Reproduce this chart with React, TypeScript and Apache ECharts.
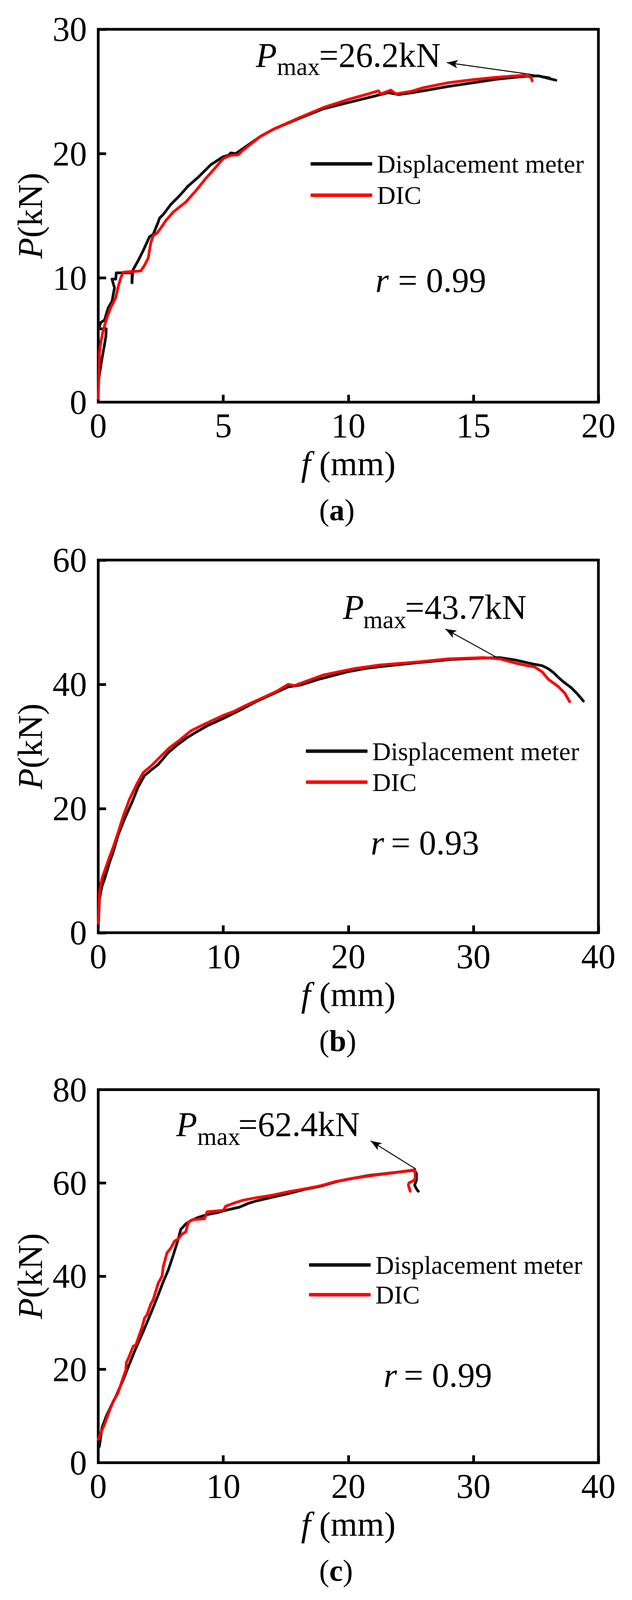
import React, { useEffect, useRef, useState } from "react";
import * as echarts from "echarts";

const FONT = '"Liberation Serif", "Times New Roman", Times, serif';

// ---------- data (f in mm, P in kN) ----------
const dispA: number[][] = [
  [0.0, 1.6], [0.15, 3.5], [0.3, 5.2], [0.32, 5.9], [0.02, 5.9], [0.1, 6.4], [0.25, 6.6],
  [0.4, 7.6], [0.55, 8.1], [0.65, 9.2], [0.55, 9.9], [0.7, 9.9], [0.72, 10.4], [1.35, 10.4],
  [1.35, 9.6], [1.38, 10.6], [1.6, 11.4], [1.8, 12.2], [2.05, 13.3], [2.2, 13.5], [2.4, 14.5],
  [2.45, 14.8], [2.6, 15.1], [2.9, 15.9], [3.2, 16.5], [3.6, 17.4], [4.0, 18.1], [4.5, 19.1],
  [5.0, 19.75], [5.2, 19.85], [5.3, 20.05], [5.5, 20.0], [6.0, 20.7], [6.5, 21.4], [7.0, 21.95],
  [8.0, 22.8], [9.0, 23.6], [10.0, 24.1], [11.0, 24.6], [11.6, 24.9], [12.0, 24.75], [12.4, 24.85],
  [13.0, 25.05], [14.0, 25.4], [15.0, 25.7], [16.0, 26.0], [17.0, 26.2], [17.6, 26.25],
  [18.0, 26.05], [18.3, 25.9],
];
const dicA: number[][] = [
  [0.0, 0.3], [0.03, 2.5], [0.05, 4.0], [0.1, 4.8], [0.2, 5.8], [0.35, 6.8], [0.5, 7.6],
  [0.7, 8.4], [0.8, 9.3], [0.9, 10.0], [1.0, 10.45], [1.3, 10.5], [1.7, 10.55], [1.85, 11.0],
  [2.0, 11.6], [2.1, 12.8], [2.2, 13.4], [2.35, 13.6], [2.5, 14.0], [2.7, 14.6], [3.0, 15.3],
  [3.5, 16.1], [3.9, 17.0], [4.3, 18.0], [4.7, 18.9], [5.0, 19.6], [5.3, 19.85], [5.6, 19.9],
  [5.75, 20.2], [6.0, 20.6], [6.5, 21.4], [7.0, 21.95], [7.5, 22.4], [8.0, 22.85], [9.0, 23.7],
  [10.0, 24.35], [10.8, 24.8], [11.2, 25.05], [11.3, 24.8], [11.7, 25.1], [11.9, 24.8],
  [12.5, 25.0], [13.0, 25.3], [14.0, 25.7], [15.0, 25.95], [16.0, 26.15], [17.0, 26.3],
  [17.3, 26.15], [17.35, 25.85],
];
const dispB: number[][] = [
  [0.0, 0.5], [0.1, 5.5], [0.3, 7.5], [0.5, 8.6], [0.9, 11.3], [1.2, 13.0], [1.6, 15.8],
  [2.1, 18.3], [2.7, 21.0], [3.2, 23.5], [3.7, 25.3], [4.3, 26.3], [4.8, 27.1], [5.6, 29.0],
  [6.3, 30.2], [7.1, 31.4], [8.0, 32.5], [8.7, 33.3], [10.0, 34.5], [10.5, 35.0], [11.5, 36.0],
  [12.6, 37.2], [13.8, 38.3], [15.2, 39.6], [16.2, 39.9], [17.8, 40.9], [19.9, 42.0],
  [21.5, 42.6], [23.0, 42.95], [25.6, 43.5], [28.2, 44.0], [30.5, 44.2], [32.1, 44.3],
  [33.4, 43.9], [34.7, 43.3], [35.5, 43.0], [36.0, 42.5], [36.4, 41.9], [36.75, 41.2],
  [37.2, 40.4], [37.8, 39.5], [38.3, 38.5], [38.8, 37.3],
];
const dicB: number[][] = [
  [0.0, 1.5], [0.1, 6.5], [0.3, 8.8], [0.5, 9.9], [0.9, 12.2], [1.2, 13.8], [1.6, 16.2],
  [2.0, 18.8], [2.5, 21.5], [3.1, 24.0], [3.6, 25.8], [4.2, 26.8], [4.8, 28.0], [5.7, 29.8],
  [6.5, 31.0], [7.4, 32.5], [8.5, 33.6], [10.0, 35.0], [10.8, 35.6], [11.8, 36.6], [13.0, 37.7],
  [14.2, 38.8], [15.2, 40.0], [15.7, 39.8], [16.5, 40.4], [18.0, 41.5], [20.4, 42.5],
  [22.5, 43.1], [25.6, 43.6], [28.0, 44.1], [30.8, 44.3], [32.1, 44.1], [33.4, 43.4],
  [34.3, 43.0], [34.9, 42.8], [35.5, 42.0], [36.0, 40.8], [36.75, 39.7], [37.3, 38.6],
  [37.7, 37.2],
];
const dispC: number[][] = [
  [0.0, 3.0], [0.1, 3.6], [0.3, 7.5], [0.65, 10.0], [1.0, 12.0], [1.43, 14.3], [2.0, 17.8],
  [2.47, 21.0], [3.0, 24.5], [3.5, 27.5], [4.0, 30.7], [4.4, 33.3], [4.8, 36.0], [5.2, 38.8],
  [5.6, 41.3], [6.0, 44.5], [6.36, 47.6], [6.6, 50.0], [7.0, 51.2], [7.4, 51.9], [8.0, 52.6],
  [8.7, 53.2], [9.5, 53.6], [10.0, 54.0], [11.3, 54.8], [12.0, 55.6], [12.6, 56.1],
  [13.9, 56.9], [15.2, 57.7], [16.5, 58.6], [17.8, 59.3], [19.1, 60.3], [20.4, 61.0],
  [21.7, 61.6], [23.0, 62.0], [24.3, 62.4], [25.3, 62.7], [25.45, 62.0], [25.45, 60.6],
  [25.3, 59.5], [25.5, 58.5], [25.6, 58.2],
];
const dicC: number[][] = [
  [0.0, 5.0], [0.5, 8.2], [0.9, 11.1], [1.2, 13.2], [1.56, 14.8], [2.0, 18.3], [2.2, 19.8],
  [2.25, 21.5], [2.4, 22.3], [2.8, 25.0], [3.0, 25.2], [3.5, 29.0], [3.7, 31.0], [3.9, 31.7],
  [4.2, 34.0], [4.4, 35.0], [4.8, 38.5], [5.1, 40.0], [5.2, 42.0], [5.5, 45.0], [5.8, 46.0],
  [6.1, 47.5], [6.4, 48.0], [6.7, 49.0], [7.0, 49.5], [7.2, 51.5], [7.5, 52.1], [8.5, 52.3],
  [8.7, 53.8], [10.0, 54.1], [10.2, 55.0], [11.0, 55.8], [11.6, 56.3], [12.6, 56.8],
  [14.0, 57.4], [15.2, 58.1], [16.5, 58.7], [17.8, 59.4], [19.0, 60.3], [20.4, 61.0],
  [22.0, 61.6], [23.5, 62.1], [24.5, 62.5], [25.3, 62.8], [25.35, 61.5], [25.3, 60.6],
  [24.85, 60.0], [24.8, 59.5], [24.95, 58.2],
];

// axis ranges
const xMaxes = [20, 40, 40];
const xIntervals = [5, 10, 10];
const yMaxes = [30, 60, 80];
const yIntervals = [10, 20, 20];

// annotation content
const pmaxTexts = ["=26.2kN", "=43.7kN", "=62.4kN"];
const rTexts = ["= 0.99", "= 0.93", "= 0.99"];
const captions = ["a", "b", "c"];
// arrows: [tail(on curve), tip(near label)] in data coords
const arrows: number[][][] = [
  [[18.08, 26.15], [13.94, 27.32]],
  [[31.9, 44.3], [27.76, 48.9]],
  [[25.41, 62.95], [21.79, 69.0]],
];

const SERIES_NAMES = ["Displacement meter", "DIC"];

// ---------- layout (pixels of the 1618 x 4345 reference) ----------
const REF_H = 4345;
const GRID_LEFT = 251.5;
const GRID_W = 1280.5;
const layout = [
  { top: 79.5, bottom: 1092, legLeft: 795, legY: [445, 530], P: [655, 150], max: [709, 181], eq: [817, 150], r: [961, 761], req: 1019 },
  { top: 1521, bottom: 2533, legLeft: 783, legY: [2040, 2124], P: [878, 1649], max: [930, 1683], eq: [1037, 1649], r: [949, 2289], req: 1001 },
  { top: 2959, bottom: 3972, legLeft: 791, legY: [3435, 3516], P: [451, 3054], max: [505, 3086], eq: [610, 3054], r: [982, 3735], req: 1034 },
];

const series1 = [dispA, dispB, dispC];
const series2 = [dicA, dicB, dicC];

function buildOption(S: number) {
  const grid = layout.map((l) => ({
    left: GRID_LEFT,
    top: l.top * S,
    width: GRID_W,
    height: (l.bottom - l.top) * S,
    show: true,
    borderColor: "#000",
    borderWidth: 7,
    backgroundColor: "transparent",
  }));
  const labelStyle = { fontSize: 88, fontFamily: FONT, color: "#000" };
  const xAxis = layout.map((_, i) => ({
    type: "value",
    gridIndex: i,
    min: 0,
    max: xMaxes[i],
    interval: xIntervals[i],
    axisLine: { show: false },
    axisTick: { show: true, inside: true, length: 20 * S, lineStyle: { color: "#000", width: 7 } },
    axisLabel: { ...labelStyle, margin: 64 * S - 44 },
    splitLine: { show: false },
    name: "{i|f}(mm)",
    nameLocation: "middle",
    nameGap: 168 * S - 44,
    nameTextStyle: {
      ...labelStyle,
      rich: { i: { ...labelStyle, fontStyle: "italic", padding: [0, 22, 0, 0] } },
    },
  }));
  const yAxis = layout.map((_, i) => ({
    type: "value",
    gridIndex: i,
    min: 0,
    max: yMaxes[i],
    interval: yIntervals[i],
    axisLine: { show: false },
    axisTick: { show: true, inside: true, length: 20, lineStyle: { color: "#000", width: 7 } },
    axisLabel: { ...labelStyle, margin: 29 },
    splitLine: { show: false },
    name: "{i|P}(kN)",
    nameLocation: "middle",
    nameGap: 130,
    nameTextStyle: { ...labelStyle, rich: { i: { ...labelStyle, fontStyle: "italic" } } },
  }));
  const series: any[] = [];
  layout.forEach((_, i) => {
    series.push({
      type: "line",
      name: SERIES_NAMES[0],
      xAxisIndex: i,
      yAxisIndex: i,
      data: series1[i],
      showSymbol: false,
      symbol: "none",
      color: "#111",
      lineStyle: { color: "#111", width: 7, join: "round", cap: "round" },
      z: 2,
      markLine: {
        silent: true,
        symbol: ["none", "arrow"],
        symbolSize: [16, 28],
        lineStyle: { color: "#000", width: 2.5, type: "solid" },
        label: { show: false },
        emphasis: { disabled: true },
        data: [[{ coord: arrows[i][0] }, { coord: arrows[i][1] }]],
      },
    });
    series.push({
      type: "line",
      name: SERIES_NAMES[1],
      xAxisIndex: i,
      yAxisIndex: i,
      data: series2[i],
      showSymbol: false,
      symbol: "none",
      color: "#ff0000",
      lineStyle: { color: "#ff0000", width: 7, join: "round", cap: "round" },
      z: 3,
    });
  });
  const legend = layout.map((l) => ({
    data: SERIES_NAMES,
    orient: "vertical",
    left: l.legLeft,
    top: l.legY[0] * S - 33,
    padding: 0,
    itemGap: (l.legY[1] - l.legY[0]) * S - 66,
    itemWidth: 158,
    itemHeight: 9,
    icon: "roundRect",
    selectedMode: false,
    textStyle: { fontSize: 66, fontFamily: FONT, color: "#000", padding: [0, 0, 0, 7] },
  }));
  const title = layout.map((l, i) => ({
    text: "({b|" + captions[i] + "})",
    left: 817,
    top: (l.bottom + 293) * S - 39,
    padding: 0,
    textStyle: {
      fontSize: 78,
      fontFamily: FONT,
      fontWeight: "normal",
      color: "#000",
      rich: { b: { fontSize: 78, fontFamily: FONT, fontWeight: "bold", color: "#000" } },
    },
  }));
  const txt = (x: number, y: number, text: string, font: string) => ({
    type: "text",
    x,
    y: y * S,
    silent: true,
    style: { text, font, fill: "#000", textAlign: "left", textVerticalAlign: "middle" },
  });
  const graphic: any[] = [];
  layout.forEach((l, i) => {
    graphic.push(txt(l.P[0], l.P[1], "P", `italic 88px ${FONT}`));
    graphic.push(txt(l.max[0], l.max[1], "max", `64px ${FONT}`));
    graphic.push(txt(l.eq[0], l.eq[1], pmaxTexts[i], `88px ${FONT}`));
    graphic.push(txt(l.r[0], l.r[1], "r", `italic 88px ${FONT}`));
    graphic.push(txt(l.req, l.r[1], rTexts[i], `88px ${FONT}`));
  });
  return {
    animation: false,
    backgroundColor: "#fff",
    grid,
    xAxis,
    yAxis,
    series,
    legend,
    title,
    graphic,
  };
}

function getScale() {
  if (typeof window === "undefined") return 1;
  const h = window.innerHeight || REF_H;
  return Math.min(1, h / REF_H);
}

export default function App() {
  const ref = useRef<HTMLDivElement>(null);
  const [S] = useState(getScale);
  useEffect(() => {
    document.body.style.margin = "0";
    if (!ref.current) return;
    const chart = echarts.init(ref.current, undefined, { renderer: "svg" });
    chart.setOption(buildOption(S) as any);
    return () => chart.dispose();
  }, [S]);
  return <div ref={ref} style={{ width: 1618, height: Math.floor(REF_H * S) }} />;
}
